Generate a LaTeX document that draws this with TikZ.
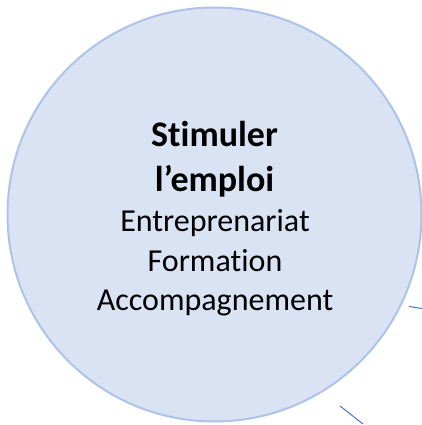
\documentclass[tikz,border=0pt]{standalone}
\usepackage{fontspec}
\setmainfont[Ligatures={NoCommon},RawFeature={-liga;-clig;-dlig}]{Carlito}
\definecolor{circfill}{HTML}{DAE3F3}
\definecolor{circdraw}{HTML}{AEC3E8}
\definecolor{linkblue}{HTML}{4472C4}
\begin{document}
\begin{tikzpicture}[x=1pt,y=1pt,
  bubble/.style={circle,fill=circfill,draw=circdraw,line width=2pt,minimum size=414pt,inner sep=0pt},
  titletext/.style={anchor=base,font=\fontsize{36}{44}\selectfont\bfseries,inner sep=0pt},
  bodytext/.style={anchor=base,font=\fontsize{32}{39}\selectfont,inner sep=0pt},
  link/.style={draw=linkblue,line width=1pt}]
\useasboundingbox (0,0) rectangle (422,425);
\node[bubble] (c) at (214.5,210.5) {};
\node[titletext] (t1) at (214.5,278) {Stimuler};
\node[titletext] (t2) at (214.5,233) {l’emploi};
\node[bodytext] (b1) at (215,193.3) {Entreprenariat};
\node[bodytext] (b2) at (215,153.3) {Formation};
\node[bodytext] (b3) at (215,114.3) {Accompagnement};
\coordinate (l1a) at (409,118.5);
\coordinate (l1b) at (422,116.5);
\coordinate (l2a) at (340,19);
\coordinate (l2b) at (363,1);
\draw[link] (l1a) -- (l1b);
\draw[link] (l2a) -- (l2b);
\end{tikzpicture}
\end{document}
